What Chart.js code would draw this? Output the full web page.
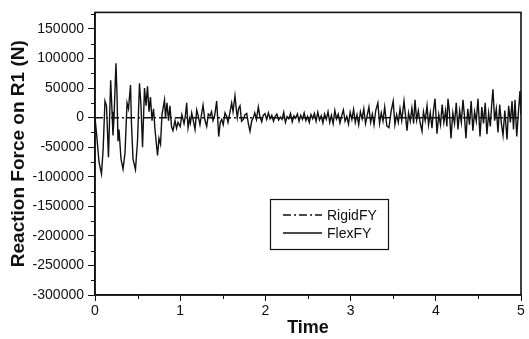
<!DOCTYPE html>
<html><head><meta charset="utf-8">
<script src="https://cdn.jsdelivr.net/npm/chart.js@4/dist/chart.umd.min.js"></script>
<style>html,body{margin:0;padding:0;background:#fff}#wrap{width:529px;height:339px}</style>
</head><body><div id="wrap"><canvas id="c" width="529" height="339"></canvas></div>
<script>
const xTicks = [0, 1, 2, 3, 4, 5];
const xMinorTicks = [0.5, 1.5, 2.5, 3.5, 4.5];
const yTicks = [-300000, -250000, -200000, -150000, -100000, -50000, 0, 50000, 100000, 150000];
const yMinorTicks = [-275000, -225000, -175000, -125000, -75000, -25000, 25000, 75000, 125000, 175000];
const seriesNames = ['RigidFY', 'FlexFY'];

const rigidTime = [0, 0.25, 0.5, 0.75, 1, 1.25, 1.5, 1.75, 2, 2.25, 2.5, 2.75, 3, 3.25, 3.5, 3.75, 4, 4.25, 4.5, 4.75, 5];
const rigidForce = [0, 0, 0, 0, 0, 0, 0, 0, 0, 0, 0, 0, 0, 0, 0, 0, 0, 0, 0, 0, 0];

const flexTime = [
 0.000,0.020,0.047,0.076,0.095,0.117,0.135,0.158,0.184,0.200,0.211,0.223,0.246,0.258,0.270,0.282,0.305,0.329,0.352,0.376,
 0.393,0.417,0.428,0.446,0.475,0.499,0.522,0.540,0.558,0.581,0.599,0.616,0.634,0.651,0.669,0.687,0.704,0.734,0.751,0.769,
 0.786,0.816,0.827,0.845,0.863,0.880,0.898,0.915,0.939,0.957,0.974,
 1.000,1.020,1.045,1.060,1.076,1.092,1.110,1.120,1.135,1.155,1.174,1.194,1.213,1.232,1.250,1.268,1.290,1.311,1.330,1.350,
 1.368,1.385,1.405,1.428,1.452,1.470,1.487,1.505,1.526,1.545,1.561,1.580,1.604,1.620,1.643,1.660,1.670,1.685,1.702,1.720,
 1.741,1.760,1.781,1.800,1.819,1.840,1.858,1.875,1.895,1.917,1.935,1.957,1.975,1.995,
 2.015,2.035,2.055,2.075,2.095,2.115,2.135,2.155,2.175,2.195,2.215,2.235,2.255,2.275,2.295,2.315,2.335,2.355,2.375,2.395,
 2.415,2.435,2.455,2.475,2.495,2.515,2.535,2.555,2.575,2.595,2.615,2.635,2.655,2.675,2.695,
 2.715,2.735,2.755,2.775,2.795,2.815,2.835,2.855,2.875,2.895,2.915,2.935,2.955,2.975,2.995,3.015,3.035,3.055,3.075,3.095,
 3.115,3.135,3.155,3.175,3.195,3.215,3.235,3.255,3.275,3.295,3.320,3.340,3.360,3.380,3.400,3.425,3.450,3.475,3.500,3.520,
 3.540,3.560,3.580,3.600,3.627,3.645,3.662,3.680,3.700,3.720,3.740,3.756,3.775,3.795,3.815,3.838,3.855,3.875,3.897,3.915,
 3.935,3.955,3.975,3.991,4.014,4.035,4.055,4.075,4.095,4.115,4.130,4.143,4.160,4.178,4.200,4.220,4.240,4.260,4.280,4.300,
 4.319,4.335,4.354,4.375,4.395,4.415,4.435,4.455,4.475,4.495,4.519,4.540,4.560,4.580,4.600,4.620,4.640,4.655,4.671,4.690,
 4.710,4.730,4.750,4.770,4.789,4.810,4.836,4.855,4.875,4.895,4.912,4.930,4.950,4.970,4.988,5.000
];
const flexForce = [
 0,-30000,-75000,-95000,-55000,28000,20000,-67000,63000,10000,-30000,0,92000,40000,-40000,-20000,-70000,-87000,-60000,25000,
 15000,55000,-10000,-70000,-88000,-40000,58000,20000,-50000,50000,20000,53000,10000,35000,-5000,15000,-20000,-64000,-35000,-45000,
 5000,30000,0,25000,-5000,20000,-15000,-22000,-5000,-18000,-8000,
 -15000,5000,-10000,2000,25000,-17000,-2000,-9000,8000,-6000,-20000,13000,2000,-12000,5000,21000,-4000,-15000,6000,3000,
 10000,-5000,4000,28000,-32000,-8000,-3000,-12000,8000,2000,-8000,6000,25000,10000,37000,12000,0,15000,20000,-6000,
 -3000,5000,7000,-10000,-23000,-5000,0,8000,-3000,18000,2000,-7000,4000,7000,
 -3000,8000,-2000,4000,-6000,2000,6000,-4000,1000,-3000,9000,-8000,2000,-2000,7000,-7000,3000,-1000,6000,-6000,
 4000,-3000,8000,-5000,2000,-8000,5000,-2000,7000,-6000,9000,-4000,3000,-9000,6000,
 -3000,10000,-8000,4000,-10000,12000,-2000,6000,-9000,3000,13000,-6000,2000,-11000,9000,-3000,14000,-8000,5000,-12000,
 10000,-2000,15000,-10000,4000,18000,-8000,6000,-12000,12000,25000,-10000,8000,-6000,18000,-14000,-17000,10000,28000,-12000,
 5000,-8000,15000,-5000,28000,2000,-22000,8000,-6000,16000,-10000,30000,-4000,12000,-8000,-23000,10000,-5000,20000,-12000,
 8000,-18000,15000,32000,-27000,5000,-12000,22000,-8000,12000,-15000,32000,10000,-35000,8000,-10000,25000,-20000,12000,-8000,
 30000,5000,-35000,15000,-12000,28000,-22000,10000,-6000,32000,-32000,18000,-10000,25000,-28000,8000,-15000,20000,48000,-5000,
 15000,-25000,22000,-10000,-30000,12000,-37000,20000,-8000,28000,-20000,30000,-32000,10000,45000,5000
];

const FONT = "'Liberation Sans', Arial, Helvetica, sans-serif";
const INK = '#111';

function pairs(ts, vs) { return ts.map((t, i) => ({ x: t, y: vs[i] })); }

const framePlugin = {
  id: 'frame',
  afterDraw(chart) {
    const ctx = chart.ctx, a = chart.chartArea;
    const xs = chart.scales.x, ys = chart.scales.y;
    ctx.save();
    ctx.strokeStyle = INK;
    ctx.lineWidth = 1.6;
    ctx.strokeRect(a.left, a.top, a.right - a.left, a.bottom - a.top);
    ctx.lineWidth = 1;
    ctx.beginPath();
    xMinorTicks.forEach(v => {
      const px = Math.round(xs.getPixelForValue(v)) + 0.5;
      ctx.moveTo(px, a.bottom); ctx.lineTo(px, a.bottom + 4);
    });
    yMinorTicks.forEach(v => {
      const py = Math.round(ys.getPixelForValue(v)) + 0.5;
      if (py > a.top + 1) { ctx.moveTo(a.left, py); ctx.lineTo(a.left - 4, py); }
    });
    ctx.stroke();
    // legend
    const bx = 270, by = 199, bw = 118, bh = 50;
    ctx.fillStyle = '#fff';
    ctx.fillRect(bx, by, bw, bh);
    ctx.lineWidth = 1.2;
    ctx.strokeRect(bx + 0.5, by + 0.5, bw, bh);
    ctx.font = '14px ' + FONT;
    ctx.fillStyle = INK;
    ctx.textBaseline = 'middle';
    chart.data.datasets.forEach((ds, i) => {
      const ry = by + 16 + i * 18;
      ctx.beginPath();
      ctx.setLineDash(ds.borderDash || []);
      ctx.lineWidth = ds.borderWidth;
      ctx.strokeStyle = ds.borderColor;
      ctx.moveTo(bx + 13, ry); ctx.lineTo(bx + 52, ry);
      ctx.stroke();
      ctx.setLineDash([]);
      ctx.fillText(ds.label, bx + 57, ry + 1);
    });
    ctx.restore();
  }
};

new Chart(document.getElementById('c'), {
  type: 'scatter',
  data: {
    datasets: [
      { label: seriesNames[0], data: pairs(rigidTime, rigidForce), showLine: true, borderColor: INK, borderWidth: 1.5,
        borderDash: [8, 3, 2, 3], pointRadius: 0, order: 0 },
      { label: seriesNames[1], data: pairs(flexTime, flexForce), showLine: true, borderColor: INK, borderWidth: 1.4,
        pointRadius: 0, order: 1, tension: 0 }
    ]
  },
  options: {
    responsive: false, animation: false, devicePixelRatio: 1,
    layout: { padding: { top: 9, right: 8, left: 0, bottom: 0 } },
    plugins: { legend: { display: false }, tooltip: { enabled: false } },
    scales: {
      x: {
        type: 'linear', min: 0, max: 5,
        afterBuildTicks: s => { s.ticks = xTicks.map(v => ({ value: v })); },
        afterFit: s => { s.height = 44; },
        ticks: { font: { family: FONT, size: 14 }, color: INK, padding: 2, maxRotation: 0, autoSkip: false },
        grid: { display: true, drawOnChartArea: false, drawTicks: true, tickLength: 6, color: INK, lineWidth: 1 },
        border: { display: true, color: INK, width: 1.6 },
        title: { display: true, text: 'Time', color: INK, font: { family: FONT, size: 18, weight: 'bold' }, padding: { top: 0, bottom: 0 } }
      },
      y: {
        type: 'linear', min: -300000, max: 178000,
        afterBuildTicks: s => { s.ticks = yTicks.map(v => ({ value: v })); },
        afterFit: s => { s.width = 95; },
        ticks: { font: { family: FONT, size: 14 }, color: INK, padding: 4, autoSkip: false, callback: v => String(v) },
        grid: { display: true, drawOnChartArea: false, drawTicks: true, tickLength: 7, color: INK, lineWidth: 1 },
        border: { display: true, color: INK, width: 1.6 },
        title: { display: true, text: 'Reaction Force on R1 (N)', color: INK, font: { family: FONT, size: 19, weight: 'bold' }, padding: { top: 7, bottom: 0 } }
      }
    }
  },
  plugins: [framePlugin]
});
</script></body></html>
